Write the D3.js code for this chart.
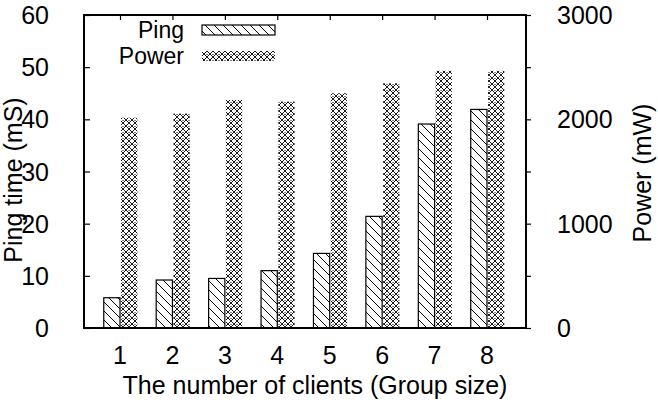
<!DOCTYPE html>
<html>
<head>
<meta charset="utf-8">
<script src="https://cdn.jsdelivr.net/npm/d3@7"></script>
<style>
  html, body { margin: 0; padding: 0; background: #fff; }
  svg text { font-family: "Liberation Sans", Arial, Helvetica, sans-serif; fill: #000; }
</style>
</head>
<body>
<svg id="chart" width="658" height="405"></svg>
<script>
// Group sizes on the x axis
const clients = [1, 2, 3, 4, 5, 6, 7, 8];
// Ping round-trip time per group size (ms)
const pingMs = [5.8, 9.2, 9.5, 11.0, 14.3, 21.4, 39.1, 41.9];
// Power draw per group size (mW)
const powerMw = [2015, 2055, 2185, 2170, 2250, 2345, 2465, 2465];
// Axis ticks
const pingTicks = [0, 10, 20, 30, 40, 50, 60];
const powerTicks = [0, 1000, 2000, 3000];
const powerMinorTicks = [500, 1500, 2500];
const seriesNames = ["Ping", "Power"];

const svg = d3.select("#chart");
const plotL = 84, plotR = 526, plotT = 15, plotB = 328;
const fontSize = 25;
const legendFont = 23;

const x = d3.scaleLinear().domain([0.313, 8.744]).range([plotL, plotR]);
const yPing = d3.scaleLinear().domain([0, 60]).range([plotB, plotT]);
const yPower = d3.scaleLinear().domain([0, 3000]).range([plotB, plotT]);
const barW = 0.31;   // bar width in category units
const gap = 0.02;

// Fill patterns
const defs = svg.append("defs");
const hatch = defs.append("pattern")
  .attr("id", "hatch").attr("patternUnits", "userSpaceOnUse")
  .attr("width", 9).attr("height", 9);
hatch.append("rect").attr("width", 9).attr("height", 9).attr("fill", "#fff");
hatch.append("path")
  .attr("d", "M-1,-1L10,10M-1,8L1,10M8,-1L10,1")
  .attr("stroke", "#000").attr("stroke-width", 1);

const cross = defs.append("pattern")
  .attr("id", "cross").attr("patternUnits", "userSpaceOnUse")
  .attr("width", 6).attr("height", 6);
cross.append("rect").attr("width", 6).attr("height", 6).attr("fill", "#fff");
cross.append("path")
  .attr("d", "M0,0L6,6M6,0L0,6")
  .attr("stroke", "#000").attr("stroke-width", 0.9);
cross.append("rect").attr("x", 2.5).attr("y", 0).attr("width", 1).attr("height", 1).attr("fill", "#000");

// Bars
const g = svg.append("g");
g.selectAll("rect.ping").data(clients).join("rect")
  .attr("class", "ping")
  .attr("x", (d) => x(d - barW))
  .attr("width", (d) => x(d) - x(d - barW))
  .attr("y", (d, i) => yPing(pingMs[i]))
  .attr("height", (d, i) => yPing(0) - yPing(pingMs[i]))
  .attr("fill", "url(#hatch)")
  .attr("stroke", "#000").attr("stroke-width", 1.2);

g.selectAll("rect.power").data(clients).join("rect")
  .attr("class", "power")
  .attr("x", (d) => x(d + gap))
  .attr("width", (d) => x(d + gap + barW) - x(d + gap))
  .attr("y", (d, i) => yPower(powerMw[i]))
  .attr("height", (d, i) => yPower(0) - yPower(powerMw[i]))
  .attr("fill", "url(#cross)");

// Frame
svg.append("rect")
  .attr("x", plotL).attr("y", plotT)
  .attr("width", plotR - plotL).attr("height", plotB - plotT)
  .attr("fill", "none").attr("stroke", "#000").attr("stroke-width", 2);

// Left axis: ticks point inward
const leftAxis = d3.axisRight(yPing).tickValues(pingTicks).tickSize(6).tickFormat("");
svg.append("g").attr("transform", `translate(${plotL},0)`).call(leftAxis)
  .call((s) => s.select(".domain").remove())
  .call((s) => s.selectAll("line").attr("stroke-width", 1.2));
svg.append("g").selectAll("text").data(pingTicks).join("text")
  .attr("x", plotL - 35).attr("y", (d) => yPing(d))
  .attr("dy", "0.36em").attr("text-anchor", "end")
  .attr("font-size", fontSize).text((d) => d);

// Right axis: ticks point outward
const rightAxis = d3.axisRight(yPower)
  .tickValues(powerTicks.concat(powerMinorTicks)).tickSize(5).tickFormat("");
svg.append("g").attr("transform", `translate(${plotR},0)`).call(rightAxis)
  .call((s) => s.select(".domain").remove())
  .call((s) => s.selectAll("line").attr("stroke-width", 1.2));
svg.append("g").selectAll("text").data(powerTicks).join("text")
  .attr("x", plotR + 31).attr("y", (d) => yPower(d))
  .attr("dy", "0.36em").attr("text-anchor", "start")
  .attr("font-size", fontSize).text((d) => d);

// Category ticks along the top edge
const topAxis = d3.axisBottom(x).tickValues(clients).tickSize(5).tickFormat("");
svg.append("g").attr("transform", `translate(0,${plotT})`).call(topAxis)
  .call((s) => s.select(".domain").remove())
  .call((s) => s.selectAll("line").attr("stroke-width", 1.2));
svg.append("g").selectAll("text").data(clients).join("text")
  .attr("x", (d) => x(d)).attr("y", 364)
  .attr("text-anchor", "middle").attr("font-size", fontSize).text((d) => d);

// Axis titles
svg.append("text").attr("x", 315).attr("y", 394)
  .attr("text-anchor", "middle").attr("font-size", fontSize)
  .text("The number of clients (Group size)");
svg.append("text")
  .attr("transform", `translate(22,180) rotate(-90)`)
  .attr("text-anchor", "middle").attr("font-size", fontSize)
  .text("Ping time (mS)");
svg.append("text")
  .attr("transform", `translate(651,173) rotate(-90)`)
  .attr("text-anchor", "middle").attr("font-size", fontSize)
  .text("Power (mW)");

// Legend
const legend = svg.append("g");
const fills = ["url(#hatch)", "url(#cross)"];
const legendY = [30, 56];
seriesNames.forEach((name, i) => {
  legend.append("text").attr("x", 184).attr("y", legendY[i])
    .attr("dy", "0.36em").attr("text-anchor", "end")
    .attr("font-size", legendFont).text(name);
  legend.append("rect")
    .attr("x", 202).attr("y", legendY[i] - 5)
    .attr("width", 73).attr("height", 10)
    .attr("fill", fills[i])
    .attr("stroke", i === 0 ? "#000" : "none").attr("stroke-width", 1.2);
});
</script>
</body>
</html>
